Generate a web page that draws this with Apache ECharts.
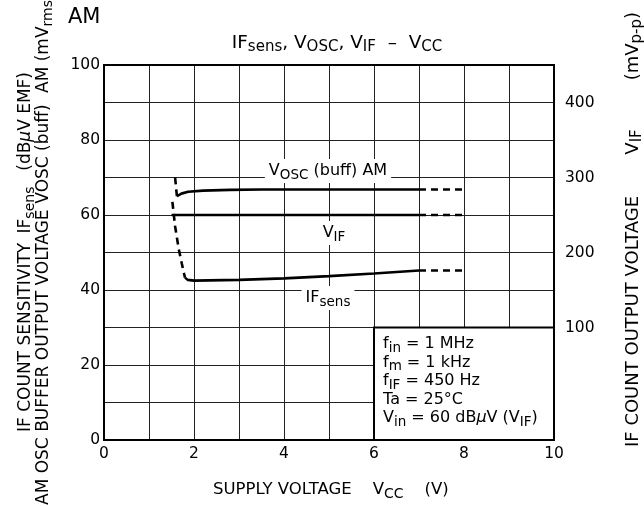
<!DOCTYPE html>
<html>
<head>
<meta charset="utf-8">
<script src="https://cdn.jsdelivr.net/npm/echarts@6/dist/echarts.min.js"></script>
<style>
  html, body { margin: 0; padding: 0; background: #fff; }
  #chart { width: 644px; height: 506px; }
</style>
</head>
<body>
<div id="chart"></div>
<script>
// tick labels
var xTicks = [0, 2, 4, 6, 8, 10];
var leftTicks = [0, 20, 40, 60, 80, 100];
var rightTicks = [100, 200, 300, 400];

// curves, [Vcc, value on left scale]
var voscSolid = [[1.62, 65], [1.72, 65.7], [1.87, 66.2], [2.2, 66.5], [2.8, 66.7], [3.5, 66.8], [7, 66.8]];
var voscDashL = [[1.58, 70], [1.62, 65]];
var voscDashR = [[7, 66.8], [8, 66.8]];
var vifSolid = [[1.5, 60], [7, 60]];
var vifDashR = [[7, 60], [8, 60]];
var ifsensSolid = [[1.8, 43.3], [1.86, 42.7], [2, 42.5], [3, 42.7], [4, 43.1], [5, 43.7], [6, 44.4], [7, 45.2]];
var ifsensDashL = [[1.52, 63.5], [1.58, 57], [1.66, 51], [1.73, 47], [1.78, 44.3], [1.8, 43.3]];
var ifsensDashR = [[7, 45.2], [8, 45.2]];

var FONT = 'DejaVu Sans';
var chart = echarts.init(document.getElementById('chart'));

function line(name, data, dashed) {
  return {
    name: name,
    type: 'line',
    data: data,
    showSymbol: false,
    symbol: 'none',
    z: 5,
    lineStyle: { color: '#000', width: 2.6, type: dashed ? [7, 5] : 'solid' }
  };
}

function txt(size, lh) { return { fontFamily: FONT, fontSize: size, color: '#000', lineHeight: lh }; }
function subs(size, drop, lh) { return { fontFamily: FONT, fontSize: size, color: '#000', padding: [drop, 0, 0, 0], lineHeight: lh }; }
function ital(size, lh) { return { fontFamily: FONT, fontSize: size, fontStyle: 'italic', color: '#000', lineHeight: lh }; }
var nrm = txt(16.5);
var sub = subs(14, 8);
var vl = { n: txt(17), s: subs(14, 8), m: ital(17) };
var vr = { n: txt(18), s: subs(15, 9), m: ital(18) };

var series = [
  line('VOSC', voscSolid, false),
  line('VOSC', voscDashL, true),
  line('VOSC', voscDashR, true),
  line('VIF', vifSolid, false),
  line('VIF', vifDashR, true),
  line('IFsens', ifsensSolid, false),
  line('IFsens', ifsensDashL, true),
  line('IFsens', ifsensDashR, true)
];
// white box behind the test conditions
series.push({
  type: 'line',
  data: [],
  z: 3,
  markArea: {
    silent: true,
    itemStyle: { color: '#fff', borderColor: '#000', borderWidth: 2 },
    data: [[{ coord: [6, 30] }, { coord: [10, 0] }]]
  }
});

// vertical text, reading bottom to top
function rotText(x, y, align, text, rich) {
  return {
    type: 'text', x: x, y: y, rotation: Math.PI / 2,
    style: { x: 0, y: 0, align: align, verticalAlign: 'middle', text: text, rich: rich }
  };
}
function label(x, y, text, rich) {
  return {
    type: 'text', x: x, y: y, z: 10,
    style: {
      x: 0, y: 0, align: 'center', verticalAlign: 'middle',
      backgroundColor: '#fff', padding: [1, 4], text: text, rich: rich
    }
  };
}

chart.setOption({
  animation: false,
  textStyle: { fontFamily: FONT },
  grid: { left: 104, right: 90, top: 65, bottom: 66, show: true, borderColor: '#000', borderWidth: 2, z: 6 },
  xAxis: {
    type: 'value', min: 0, max: 10, interval: 1,
    axisLine: { lineStyle: { color: '#000', width: 2 } },
    axisTick: { show: false },
    splitLine: { lineStyle: { color: '#222', width: 1 } },
    axisLabel: {
      color: '#000', fontSize: 15.5, fontFamily: FONT, margin: 6,
      formatter: function (v) { return xTicks.indexOf(v) >= 0 ? String(v) : ''; }
    }
  },
  yAxis: [{
    type: 'value', min: 0, max: 100, interval: 10,
    axisLine: { lineStyle: { color: '#000', width: 2 } },
    axisTick: { show: false },
    splitLine: { lineStyle: { color: '#222', width: 1 } },
    axisLabel: {
      color: '#000', fontSize: 15.5, fontFamily: FONT, margin: 4,
      formatter: function (v) { return leftTicks.indexOf(v) >= 0 ? String(v) : ''; }
    }
  }, {
    type: 'value', min: -50, max: 450, interval: 50, position: 'right',
    axisLine: { show: false },
    axisTick: { show: false },
    splitLine: { show: false },
    axisLabel: {
      color: '#000', fontSize: 15.5, fontFamily: FONT, margin: 11,
      formatter: function (v) { return rightTicks.indexOf(v) >= 0 ? String(v) : ''; }
    }
  }],
  series: series,
  graphic: [
    { type: 'text', left: 68, top: 7, style: { text: 'AM', font: '21px "' + FONT + '"', fill: '#000' } },
    {
      type: 'text', x: 337, y: 43,
      style: {
        x: 0, y: 0, align: 'center', verticalAlign: 'middle',
        text: '{n|IF}{s|sens}{n|, V}{s|OSC}{n|, V}{s|IF}{n|  –  V}{s|CC}',
        rich: { n: txt(18.5), s: subs(15, 9) }
      }
    },
    // left axis names, two columns
    rotText(26, 432, 'left', '{n|IF COUNT SENSITIVITY}', vl),
    rotText(26, 210, 'center', '{n|IF}{s|sens}', vl),
    rotText(26, 72, 'right', '{n|(dB}{m|μ}{n|V EMF)}', vl),
    rotText(44, 505, 'left', '{n|AM OSC BUFFER OUTPUT VOLTAGE}', vl),
    rotText(44, 154, 'center', '{n|VOSC (buff)}', vl),
    rotText(44, 93, 'left', '{n|AM (mV}{s|rms}{n|)}', vl),
    // right axis name
    rotText(633, 447, 'left', '{n|IF COUNT OUTPUT VOLTAGE}', vr),
    rotText(633, 142, 'center', '{n|V}{s|IF}', vr),
    rotText(633, 12, 'right', '{n|(mV}{s|p-p}{n|)}', vr),
    {
      type: 'text', x: 213, y: 490,
      style: {
        x: 0, y: 0, align: 'left', verticalAlign: 'middle',
        text: '{n|SUPPLY VOLTAGE    V}{s|CC}{n|    (V)}',
        rich: { n: nrm, s: sub }
      }
    },
    label(328, 171, '{n|V}{s|OSC}{n| (buff) AM}', { n: txt(16), s: subs(13.5, 8) }),
    label(334, 233, '{n|V}{s|IF}', { n: txt(16), s: subs(13.5, 8) }),
    label(328, 298, '{n|IF}{s|sens}', { n: txt(16), s: subs(13.5, 8) }),
    {
      type: 'text', x: 383, y: 335, z: 10,
      style: {
        x: 0, y: 0, align: 'left', verticalAlign: 'top',
        text: '{n|f}{s|in}{n| = 1 MHz}\n{n|f}{s|m}{n| = 1 kHz}\n{n|f}{s|IF}{n| = 450 Hz}\n{n|Ta = 25°C}\n{n|V}{s|in}{n| = 60 dB}{m|μ}{n|V (V}{s|IF}{n|)}',
        rich: { n: txt(16, 18.5), s: subs(13.5, 8, 11), m: ital(16, 18.5) }
      }
    }
  ]
});
</script>
</body>
</html>
